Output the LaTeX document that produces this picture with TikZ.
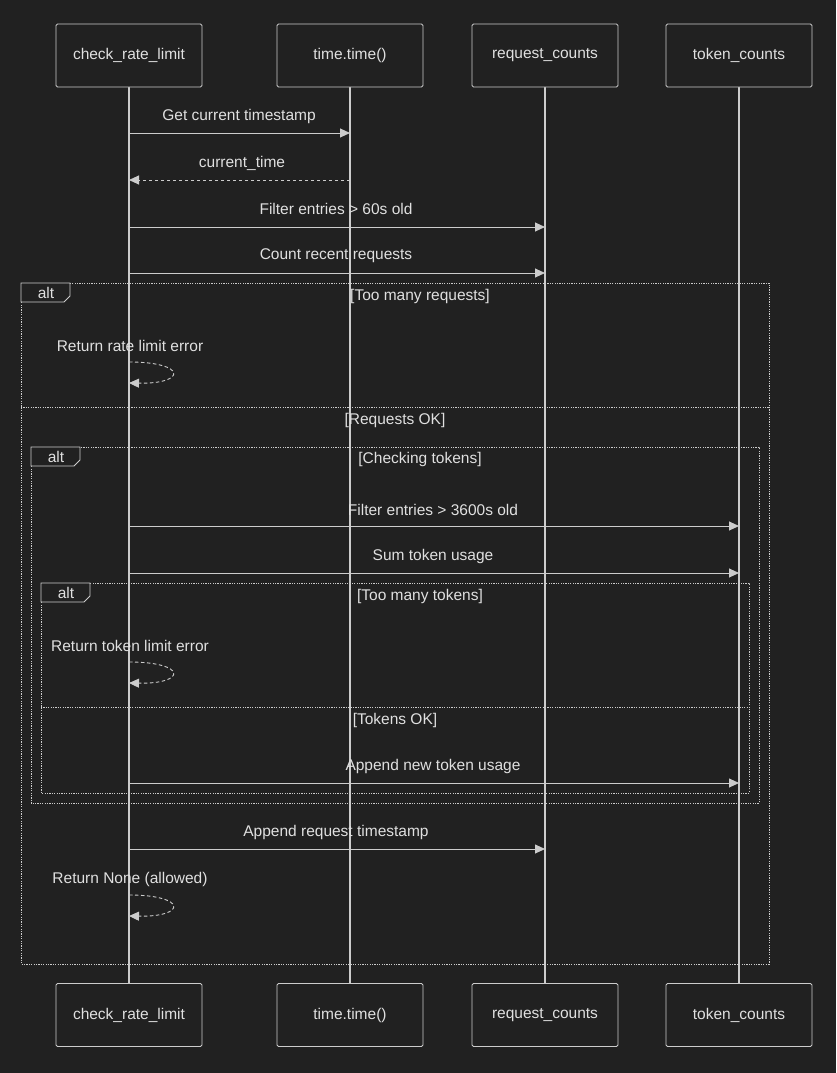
\documentclass[tikz,border=0pt]{standalone}
\usepackage{fontspec}
\setmainfont{Liberation Sans}
\usetikzlibrary{arrows.meta}
\definecolor{bg}{HTML}{212121}
\definecolor{ln}{HTML}{CCCCCC}
\definecolor{tx}{HTML}{E0E0E0}
\begin{document}
\begin{tikzpicture}[x=1pt,y=-1pt,
  actor/.style={draw=ln,fill=bg,rounded corners=1.5pt,minimum width=146pt,minimum height=63pt,text=tx,font=\fontsize{15.5}{18}\selectfont,line width=0.8pt},
  lbl/.style={text=tx,font=\fontsize{15.5}{18}\selectfont,inner sep=0pt},
  msg/.style={draw=ln,line width=0.9pt,-{Triangle[length=10pt,width=9pt]}},
  ret/.style={msg,dash pattern=on 3.5pt off 2.5pt},
  frame/.style={draw=ln,line width=1pt,dash pattern=on 1.2pt off 1.2pt},
  life/.style={draw=ln,line width=1.1pt}]
\fill[bg] (0,0) rectangle (836,1073);
\useasboundingbox (0,0) rectangle (836,1073);
% lifelines
\foreach \x in {129,350,545,739} \draw[life] (\x,87) -- (\x,984);
% actors
\node[actor] (a1) at (129,55.5) {check\_rate\_limit};
\node[actor] (a2) at (350,55.5) {time.time()};
\node[actor] (a3) at (545,55.5) {request\_counts};
\node[actor] (a4) at (739,55.5) {token\_counts};
\node[actor] (b1) at (129,1015) {check\_rate\_limit};
\node[actor] (b2) at (350,1015) {time.time()};
\node[actor] (b3) at (545,1015) {request\_counts};
\node[actor] (b4) at (739,1015) {token\_counts};
% frames
\draw[frame] (21,283) rectangle (769,964);
\draw[frame] (21,407) -- (769,407);
\draw[frame] (31,447) rectangle (759,803);
\draw[frame] (41,583) rectangle (749,793);
\draw[frame] (41,707) -- (749,707);
\foreach \l/\t in {21/283,31/447,41/583}{
  \draw[ln,line width=0.8pt,fill=bg] (\l,\t) -- (\l+49,\t) -- (\l+49,\t+13) -- (\l+43,\t+19) -- (\l,\t+19) -- cycle;
  \node[lbl] at (\l+25,\t+10) {alt};
}
\node[lbl] at (420,296) {[Too many requests]};
\node[lbl] at (395,420) {[Requests OK]};
\node[lbl] at (420,459) {[Checking tokens]};
\node[lbl] at (420,596) {[Too many tokens]};
\node[lbl] at (395,720) {[Tokens OK]};
% messages
\coordinate (p1a) at (129,133); \coordinate (p1b) at (350,133);
\draw[msg] (p1a) -- (p1b);
\node[lbl] at (239,116) {Get current timestamp};
\coordinate (p2a) at (350,180); \coordinate (p2b) at (129,180);
\draw[ret] (p2a) -- (p2b);
\node[lbl] at (242,163) {current\_time};
\coordinate (p3a) at (129,227); \coordinate (p3b) at (545,227);
\draw[msg] (p3a) -- (p3b);
\node[lbl] at (336,209) {Filter entries > 60s old};
\coordinate (p4a) at (129,273); \coordinate (p4b) at (545,273);
\draw[msg] (p4a) -- (p4b);
\node[lbl] at (336,256) {Count recent requests};
\coordinate (p5a) at (129,526); \coordinate (p5b) at (739,526);
\draw[msg] (p5a) -- (p5b);
\node[lbl] at (433,510) {Filter entries > 3600s old};
\coordinate (p6a) at (129,573); \coordinate (p6b) at (739,573);
\draw[msg] (p6a) -- (p6b);
\node[lbl] at (433,556) {Sum token usage};
\coordinate (p7a) at (129,783); \coordinate (p7b) at (739,783);
\draw[msg] (p7a) -- (p7b);
\node[lbl] at (433,766) {Append new token usage};
\coordinate (p8a) at (129,849); \coordinate (p8b) at (545,849);
\draw[msg] (p8a) -- (p8b);
\node[lbl] at (336,832) {Append request timestamp};
% self loops
\foreach \t/\s in {362/Return rate limit error,662/Return token limit error,895/Return None (allowed)}{
  \draw[ret] (129,\t) .. controls (187,\t) and (187,\t+22) .. (129,\t+21);
  \node[lbl] at (130,\t-16) {\s};
}
\end{tikzpicture}
\end{document}
